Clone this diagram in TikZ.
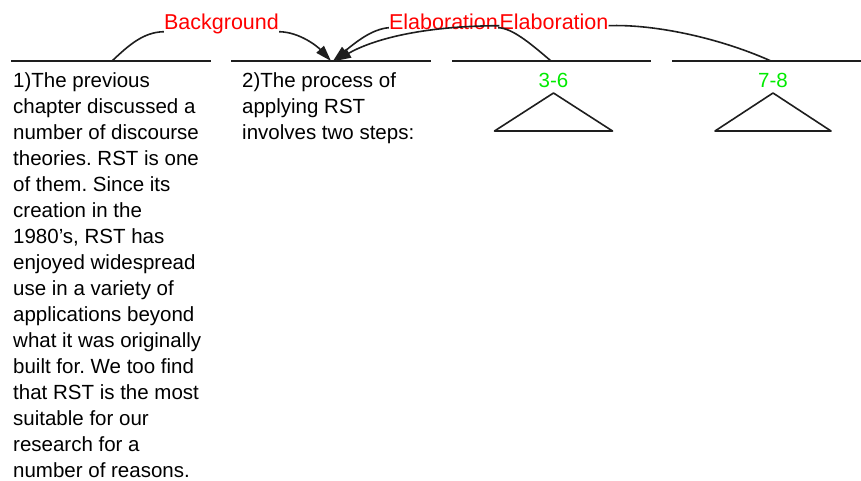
\documentclass[tikz,border=0pt]{standalone}
\usepackage{fontspec}
\setmainfont{Liberation Sans}
\usepackage{tikz}
\usetikzlibrary{arrows.meta, positioning, calc}
\usepackage{xcolor}
\definecolor{relred}{RGB}{255,0,0}
\definecolor{spangreen}{RGB}{0,235,0}
\definecolor{inkgray}{RGB}{30,30,30}
\frenchspacing

\begin{document}
\begin{tikzpicture}[x=1pt, y=-1pt,
  spanbar/.style={draw=inkgray, line width=2pt},
  segtext/.style={anchor=north west, inner sep=0pt, align=left, font=\fontsize{20.5}{26}\selectfont},
  rellabel/.style={anchor=base, inner sep=0pt, text depth=2pt, text=relred, font=\fontsize{21.5}{26}\selectfont},
  spanlabel/.style={anchor=base, inner sep=0pt, text=spangreen, font=\fontsize{20.5}{26}\selectfont},
  relline/.style={draw=inkgray, line width=1.6pt},
  arr/.style={relline, -{Triangle[length=16pt, width=10pt]}},
  tri/.style={draw=inkgray, line width=1.6pt, line join=round}]
  \path[use as bounding box, fill=white] (0,0) rectangle (861,480);

  % span bars
  \draw[spanbar] (11,61) -- (211,61);
  \draw[spanbar] (231,61) -- (431,61);
  \draw[spanbar] (452,61) -- (651,61);
  \draw[spanbar] (672,61) -- (872,61);
  \coordinate (top1) at (112,61);
  \coordinate (top2) at (331,61);
  \coordinate (top3) at (551,61);
  \coordinate (top4) at (771,61);

  % segments
  \node[segtext] (seg1) at (13,72) {1)The previous\\
    chapter discussed a\\
    number of discourse\\
    theories. RST is one\\
    of them. Since its\\
    creation in the\\
    1980's, RST has\\
    enjoyed widespread\\
    use in a variety of\\
    applications beyond\\
    what it was originally\\
    built for. We too find\\
    that RST is the most\\
    suitable for our\\
    research for a\\
    number of reasons.};
  \node[segtext] (seg2) at (242,72) {2)The process of\\
    applying RST\\
    involves two steps:};
  \node[spanlabel] (span36) at (553.5,87) {3-6};
  \node[spanlabel] (span78) at (773,87) {7-8};
  \draw[tri] ([yshift=-6pt]span36.base) -- ++(-59,38) -- ++(118,0) -- cycle;
  \draw[tri] ([yshift=-6pt]span78.base) -- ++(-58,38) -- ++(116,0) -- cycle;

  % relations
  \node[rellabel] (bg) at (221.5,29.5) {Background};
  \node[rellabel] (elab1) at (443.5,29.5) {Elaboration};
  \node[rellabel] (elab2) at (554,29.5) {Elaboration};

  \draw[relline] (top1) .. controls (128,46) and (143,32) .. (bg.south west);
  \draw[arr] (bg.south east) .. controls (300,32) and (318,47) .. (top2);
  \draw[relline] (top3) .. controls (530,43) and (512,28) .. ([yshift=4pt]elab1.south east);
  \draw[arr] ([yshift=4pt]elab1.south west) .. controls (372,29) and (356,42) .. ([xshift=2pt]top2);
  \draw[relline] (top4) .. controls (715,36) and (650,24) .. ([yshift=6pt]elab2.south east);
  \draw[arr] ([yshift=6pt]elab2.south west) .. controls (420,26) and (372,40) .. ([xshift=4pt]top2);
\end{tikzpicture}
\end{document}
